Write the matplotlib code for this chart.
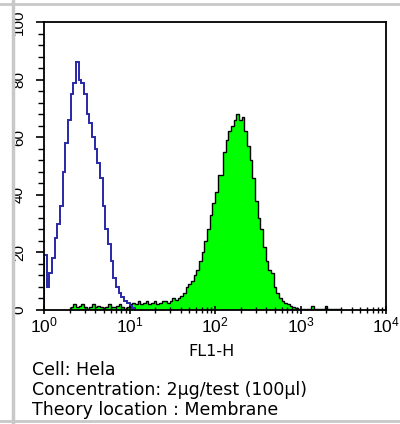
import matplotlib
matplotlib.use("Agg")
import matplotlib.pyplot as plt
from matplotlib.lines import Line2D
import numpy as np

plt.rcParams['font.family'] = ['Liberation Sans', 'DejaVu Sans']
plt.rcParams['mathtext.fontset'] = 'custom'
plt.rcParams['mathtext.rm'] = 'Liberation Sans'

# histogram channels: 32 bins per decade, bin i spans 10**(i/32) .. 10**((i+1)/32)
bins_per_decade = 32

# isotype control (blue outline), starts at bin 0
blue_start = 0
blue_counts = [19, 8, 13, 18, 25, 30, 36, 48, 58, 66, 75, 79, 86, 80, 79,
               75, 68, 65, 60, 56, 51, 46, 36, 28, 23, 17, 11, 8, 6, 4.5,
               3, 2.5, 1.5, 0.8]

# antibody stained (green fill), starts at bin 10
green_start = 10
green_counts = [1, 2, 1, 1.5, 2, 1, 0.5, 1, 2, 1, 1.5, 1, 0.5, 1, 2, 1, 1,
                1.5, 2, 1, 0.5, 1,
                2, 2.5, 2, 3, 2, 2.5, 3, 2, 2.5, 3, 2, 2.5, 3, 3, 2.5, 3, 4,
                3.5, 4,
                5, 6, 8, 9, 10, 12, 14, 17, 20, 24, 28, 33, 37, 41, 47, 47,
                55, 59, 62, 64, 66, 68, 66, 67, 62, 57, 52, 46, 38, 32, 28,
                22, 17, 14, 13, 8, 6, 4, 3, 2.5, 2, 1.5, 1, 0.8,
                0.5, 0.3, 0.5, 0.2, 0.3, 1.5, 0.3, 0.2, 0.3, 0.2, 1.5, 0.3,
                0.2, 0.3, 0.2, 0.2]

y_ticks = [0, 20, 40, 60, 80, 100]
x_ticks = [1, 10, 100, 1000, 10000]
x_tick_labels = [r'$\mathregular{10^{0}}$', r'$\mathregular{10^{1}}$',
                 r'$\mathregular{10^{2}}$', r'$\mathregular{10^{3}}$',
                 r'$\mathregular{10^{4}}$']

x_label = "FL1-H"
info_lines = ["Cell: Hela",
              "Concentration: 2\u00b5g/test (100\u00b5l)",
              "Theory location : Membrane"]


def edges_for(start, n):
    return 10 ** (np.arange(start, start + n + 1) / bins_per_decade)


fig = plt.figure(figsize=(4.0, 4.24), dpi=100)
ax = fig.add_axes([0.11, 0.269, 0.855, 0.679])

ge = edges_for(green_start, len(green_counts))
ax.stairs(green_counts, ge, fill=True, color='#00ff00', baseline=0)
ax.stairs(green_counts, ge, color='black', linewidth=1.0, baseline=0)

be = edges_for(blue_start, len(blue_counts))
ax.stairs(blue_counts, be, color='#2828a8', linewidth=1.4, baseline=0)

ax.set_xscale('log')
ax.set_xlim(1, 10000)
ax.set_ylim(0, 100)

ax.tick_params(axis='y', which='major', direction='out', length=6,
               width=1.2, pad=7, labelsize=11)
ax.tick_params(axis='y', which='minor', direction='out', length=4,
               width=1.0)
ax.tick_params(axis='x', which='major', direction='inout', length=6,
               width=1.2, pad=1, labelsize=12.5)
ax.tick_params(axis='x', which='minor', direction='inout', length=4,
               width=1.0)

ax.set_xticks(x_ticks)
ax.set_xticklabels(x_tick_labels)
ax.set_yticks(y_ticks)
ax.set_yticks(np.arange(0, 101, 4), minor=True)
ax.set_yticklabels([str(v) for v in y_ticks], rotation=90, va='center',
                   ha='right')
for s in ax.spines.values():
    s.set_linewidth(1.3)

fig.text(212 / 400, 1 - 352 / 424, x_label, ha='center', va='center',
         fontsize=11.5, family=['DejaVu Sans'])
for i, line in enumerate(info_lines):
    fig.text(32 / 400, 1 - (370 + 20 * i) / 424, line, ha='left',
             va='center', fontsize=12.5, family=['DejaVu Sans'])

# grey frame of the original screenshot
gray = '#c8c8c8'
fig.add_artist(Line2D([13 / 400, 13 / 400], [0, 1], color=gray, lw=2.5))
fig.add_artist(Line2D([0, 1], [1 - 4 / 424, 1 - 4 / 424], color=gray, lw=2))
fig.add_artist(Line2D([0, 1], [1 - 421 / 424, 1 - 421 / 424], color=gray,
                      lw=2))

fig.savefig('out.png', dpi=100)
